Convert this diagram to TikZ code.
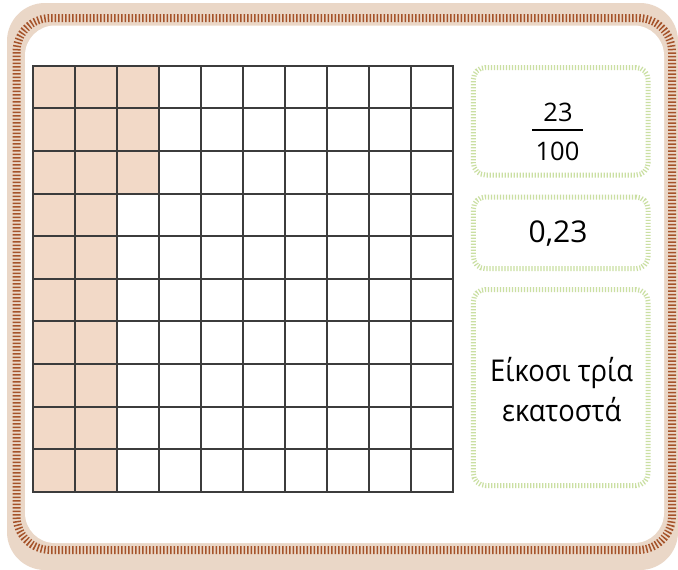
\documentclass[tikz,border=0pt]{standalone}
\usepackage{fontspec}
\setmainfont{Open Sans}
\newfontfamily\narrowsans{Open Sans}[FakeStretch=0.91]
\usetikzlibrary{positioning}
\definecolor{framebg}{HTML}{EAD7C7}
\definecolor{framedash}{HTML}{A5532A}
\definecolor{cellfill}{HTML}{F2D9C7}
\definecolor{gridink}{HTML}{3C3C3C}
\definecolor{cardgreen}{HTML}{CADFA2}
\tikzset{
  framefill/.style={fill=framebg,rounded corners=38pt},
  framestitch/.style={draw=framedash,line width=8pt,
                      dash pattern=on 1.5pt off 2pt,rounded corners=34pt},
  gridcell/.style={draw=gridink,line width=2pt},
  answercard/.style={draw=cardgreen,line width=5pt,
                     dash pattern=on 1.2pt off 1.8pt,rounded corners=12pt,
                     minimum width=174.7pt,inner sep=0pt},
  cardtext/.style={inner sep=0pt,align=center,font=\fontsize{30}{40}\selectfont},
  fracbar/.style={draw=black,line width=2pt}
}

\begin{document}
\begin{tikzpicture}[x=1pt,y=-1pt]
  \useasboundingbox (0,0) rectangle (678,570);
  \fill[white] (0,0) rectangle (678,570);
  \fill[framefill] (7,3) rectangle (678,570);
  \fill[white,rounded corners=30pt] (25,25.5) rectangle (664,543);
  \draw[framestitch] (16.5,18) rectangle (672,550);

  \fill[cellfill] (32.7,65.7) rectangle ++({3*42.06},{3*42.6});
  \fill[cellfill] (32.7,{65.7+3*42.6}) rectangle ++({2*42.06},{7*42.6});
  \foreach \r in {0,...,9} {
    \foreach \c in {0,...,9} {
      \draw[gridcell] ({32.7+42.06*\c},{65.7+42.6*\r}) rectangle ++(42.06,42.6);
    }
  }

  \node[answercard,minimum height=107.5pt] (frac) at (560.7,121.25) {};
  \node[answercard,minimum height=71.7pt] (dec) at (560.7,232.85) {};
  \node[answercard,minimum height=196pt] (words) at (560.7,387.5) {};

  \node[cardtext,font=\fontsize{25.5}{30}\selectfont,anchor=base] (num) at (558,121.7) {23};
  \node[cardtext,font=\fontsize{25.5}{30}\selectfont,anchor=base,inner xsep=3pt] (den) at (557.5,160) {100};
  \draw[fracbar] ([yshift=11pt]den.north west) -- ([yshift=11pt]den.north east);
  \node[cardtext,anchor=base] (dectext) at (558,242) {0,23};
  \node[cardtext,font=\narrowsans\fontsize{30}{40}\selectfont,anchor=base] (wordstext) at (561.7,421.7)
    {Είκοσι τρία\\εκατοστά};
\end{tikzpicture}
\end{document}
